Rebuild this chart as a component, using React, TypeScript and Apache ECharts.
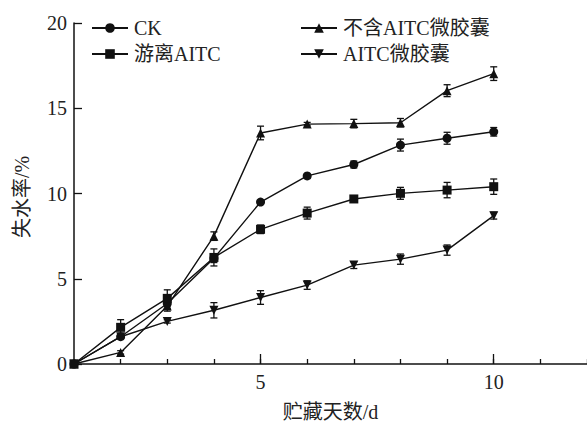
import React, { useEffect, useRef } from "react";
import * as echarts from "echarts";

const days = [1, 2, 3, 4, 5, 6, 7, 8, 9, 10];
const seriesNames = ["CK", "游离AITC", "不含AITC微胶囊", "AITC微胶囊"];
const ck = [0, 1.6, 3.55, 6.2, 9.5, 11.03, 11.7, 12.84, 13.24, 13.62];
const ckErr = [0.05, 0.1, 0.3, 0.25, 0.1, 0.1, 0.2, 0.35, 0.35, 0.25];
const free = [0, 2.15, 3.85, 6.25, 7.9, 8.85, 9.68, 10.01, 10.2, 10.4];
const freeErr = [0.05, 0.45, 0.5, 0.5, 0.25, 0.35, 0.15, 0.35, 0.45, 0.45];
const blank = [0, 0.68, 3.4, 7.5, 13.55, 14.07, 14.1, 14.15, 16.03, 17.03];
const blankErr = [0.05, 0.1, 0.3, 0.25, 0.4, 0.1, 0.25, 0.25, 0.35, 0.4];
const micro = [0, 1.6, 2.5, 3.15, 3.9, 4.63, 5.8, 6.15, 6.68, 8.7];
const microErr = [0.05, 0.1, 0.1, 0.45, 0.4, 0.25, 0.2, 0.3, 0.3, 0.2];
const xLabels = [5, 10];

const SERIF = '"Liberation Serif", "Times New Roman", "Noto Sans CJK SC", serif';

export default function App() {
  const ref = useRef<HTMLDivElement>(null);
  useEffect(() => {
    if (!ref.current) return;
    const chart = echarts.init(ref.current, null, { renderer: "svg" });
    const vals = [ck, free, blank, micro];
    const errs = [ckErr, freeErr, blankErr, microErr];
    const symbols = ["circle", "rect", "triangle", "triangle"];
    const sizes = [9, 9, 9, 9];
    const rotates = [0, 0, 0, 180];

    const lineSeries = seriesNames.map((name, i) => ({
      name,
      type: "line",
      xAxisIndex: 0,
      yAxisIndex: 0,
      data: days.map((d, j) => [d, vals[i][j]]),
      symbol: symbols[i],
      symbolSize: sizes[i],
      symbolRotate: rotates[i],
      showSymbol: true,
      lineStyle: { color: "#111", width: 1.4 },
      itemStyle: { color: "#111" },
      z: 3 + (i === 1 ? 2 : 0),
    }));

    const errSeries = seriesNames.map((name, i) => ({
      type: "custom",
      xAxisIndex: 0,
      yAxisIndex: 0,
      data: days.map((d, j) => [d, vals[i][j] - errs[i][j], vals[i][j] + errs[i][j]]),
      renderItem: (params: any, api: any) => {
        const x = api.value(0);
        const lo = api.coord([x, api.value(1)]);
        const hi = api.coord([x, api.value(2)]);
        const w = 3.5;
        const style = { stroke: "#111", lineWidth: 1.3 };
        return {
          type: "group",
          children: [
            { type: "line", shape: { x1: lo[0], y1: lo[1], x2: hi[0], y2: hi[1] }, style },
            { type: "line", shape: { x1: lo[0] - w, y1: lo[1], x2: lo[0] + w, y2: lo[1] }, style },
            { type: "line", shape: { x1: hi[0] - w, y1: hi[1], x2: hi[0] + w, y2: hi[1] }, style },
          ],
        };
      },
      z: 2,
      silent: true,
    }));

    const legendCommon = {
      orient: "vertical",
      itemWidth: 36,
      itemHeight: 12,
      itemGap: 6,
      textStyle: { fontFamily: SERIF, fontSize: 20, color: "#222", lineHeight: 20, padding: [0, 0, 0, 1] },
      selectedMode: false,
    };

    chart.setOption({
      animation: false,
      backgroundColor: "#fff",
      grid: { left: 74, right: 0, top: 23, bottom: 60, containLabel: false, outerBoundsMode: "none" },
      legend: [
        { ...legendCommon, left: 86, top: 13, data: [seriesNames[0], seriesNames[1]] },
        { ...legendCommon, left: 295, top: 13, data: [seriesNames[2], seriesNames[3]] },
      ],
      xAxis: [
        {
          type: "value",
          min: 1,
          max: 12,
          interval: 1,
          axisLine: { show: true, lineStyle: { color: "#111", width: 1.5 } },
          axisTick: { show: true, inside: true, length: 5, lineStyle: { color: "#111", width: 1.3 } },
          axisLabel: { show: false },
          splitLine: { show: false },
        },
        {
          type: "value",
          position: "bottom",
          min: 1,
          max: 12,
          axisLine: { show: false },
          axisTick: { show: true, inside: true, length: 10, customValues: xLabels, lineStyle: { color: "#111", width: 1.3 } },
          axisLabel: { show: true, customValues: xLabels, fontFamily: SERIF, fontSize: 20, color: "#222", margin: 8 },
          splitLine: { show: false },
          name: "贮藏天数/d",
          nameLocation: "middle",
          nameGap: 38,
          nameTextStyle: { fontFamily: SERIF, fontSize: 20, color: "#222" },
        },
      ],
      yAxis: {
        type: "value",
        min: 0,
        max: 20,
        interval: 5,
        axisLine: { show: true, lineStyle: { color: "#111", width: 1.5 } },
        axisTick: { show: true, inside: true, length: 8, lineStyle: { color: "#111", width: 1.3 } },
        axisLabel: { fontFamily: SERIF, fontSize: 20, color: "#222", margin: 7 },
        splitLine: { show: false },
      },
      graphic: [
        {
          type: "text",
          x: 22,
          y: 197,
          rotation: Math.PI / 2,
          style: {
            text: "失水率/%",
            fontFamily: SERIF,
            fontSize: 20,
            fill: "#222",
            align: "center",
            verticalAlign: "middle",
          },
        },
      ],
      series: [...errSeries, ...lineSeries],
    });
    return () => chart.dispose();
  }, []);
  return <div ref={ref} style={{ width: 587, height: 424, position: "absolute", left: 0, top: 0 }} />;
}
